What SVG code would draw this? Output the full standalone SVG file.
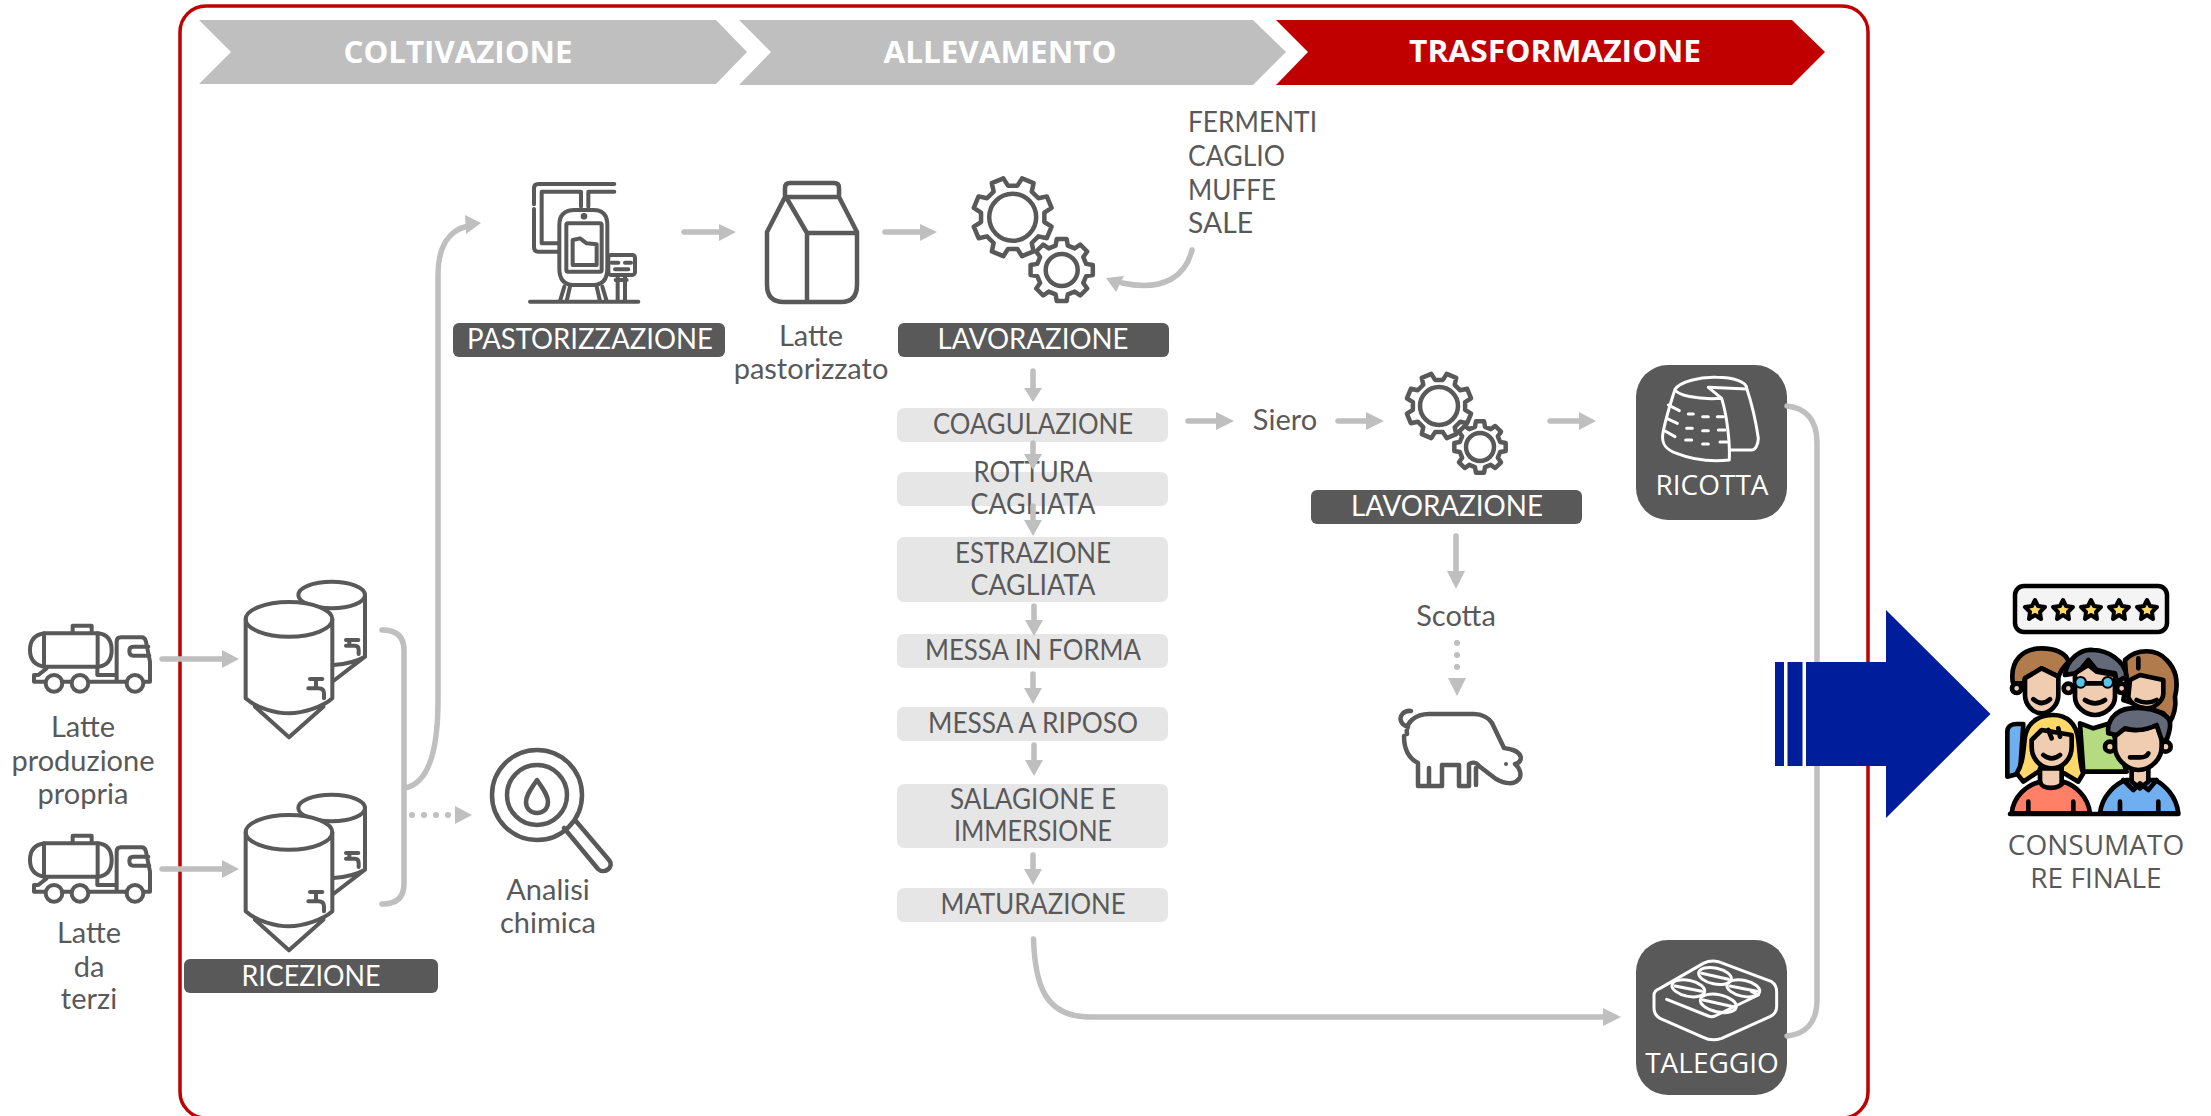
<svg xmlns="http://www.w3.org/2000/svg" xmlns:xlink="http://www.w3.org/1999/xlink" width="2211" height="1116" viewBox="0 0 2211 1116">
<style>
text{font-family:"Lato","Liberation Sans",sans-serif;font-size:29px;fill:#595959;text-anchor:middle}
.u{font-size:28px}
.w{fill:#fff}
.l{text-anchor:start}
.h{font-family:"Open Sans","Liberation Sans",sans-serif;font-weight:700;font-size:30px;fill:#fff}
.o{font-family:"Open Sans","Liberation Sans",sans-serif;font-size:28px}
.pill{fill:#595959}
.box{fill:#E6E6E6}
.ic{fill:none;stroke:#595959;stroke-width:4.500;stroke-linecap:round;stroke-linejoin:round}
.z{fill:none;stroke:#595959;stroke-width:12;stroke-linecap:round;stroke-linejoin:round}
.wi{fill:none;stroke:#fff;stroke-width:9;stroke-linecap:round;stroke-linejoin:round}
.g{fill:none;stroke:#595959;stroke-width:4.500;stroke-linejoin:round;vector-effect:non-scaling-stroke}
.c{fill:none;stroke:#BFBFBF;stroke-width:5.500;stroke-linecap:round}
.hd{fill:#BFBFBF}
.d{fill:#BFBFBF}
.k{stroke:#000;stroke-width:14;stroke-linejoin:round;stroke-linecap:round}
.n{fill:none}
.skin{fill:#F0CDB0}
</style>
<defs>
<polygon id="gear" class="g" points="77.6,-19.4 98.8,-15.6 98.8,15.6 77.6,19.4 68.6,41.2 80.9,58.8 58.8,80.9 41.2,68.6 19.4,77.6 15.6,98.8 -15.6,98.8 -19.4,77.6 -41.2,68.6 -58.8,80.9 -80.9,58.8 -68.6,41.2 -77.6,19.4 -98.8,15.6 -98.8,-15.6 -77.6,-19.4 -68.6,-41.2 -80.9,-58.8 -58.8,-80.9 -41.2,-68.6 -19.4,-77.6 -15.6,-98.8 15.6,-98.8 19.4,-77.6 41.2,-68.6 58.8,-80.9 80.9,-58.8 68.6,-41.2"/>
<g id="truck" class="z" transform="translate(20 615) scale(.3333)">
<path d="M80 55H235Q275 60 275 105Q275 150 235 155H75Q30 150 30 105Q30 60 75 55Z"/>
<path d="M72 55V155M233 55V155M158 50V32H215V50"/>
<path d="M80 160L55 180H42V200H75M125 200H155M205 200H320M232 155V180H290M290 200V80Q290 67 303 67H365Q375 67 378 80L390 140V200H372M385 95H340Q328 95 328 107Q328 122 340 122H388"/>
<circle cx="102" cy="205" r="25"/><circle cx="180" cy="205" r="25"/><circle cx="345" cy="205" r="25"/>
</g>
<g id="tanks" class="z" transform="translate(240 575) scale(.3333)">
<ellipse cx="275" cy="60" rx="100" ry="40"/>
<path d="M375 60V245L280 318M280 270Q340 265 375 245"/>
<ellipse cx="147" cy="133" rx="130" ry="52" fill="#fff"/>
<path d="M17 133V370C50 400 110 415 147 415C190 415 250 395 277 370V133M45 395L147 487L250 395"/>
<path d="M210 312H247M228 312V338M205 340H235Q252 340 252 355V370M318 195H355M328 195V210M318 212H345Q356 212 356 225V237"/>
</g>
</defs>

<rect x="180" y="6" width="1688" height="1112" rx="26" fill="#fff" stroke="#C00000" stroke-width="3.500"/>

<g id="stage-coltivazione"><polygon points="199,20 716,20 747,52 716,84 199,84 231,52" fill="#BFBFBF"/><text class="h" x="458" y="63" textLength="229" lengthAdjust="spacingAndGlyphs">COLTIVAZIONE</text></g>
<g id="stage-allevamento"><polygon points="739,20 1253,20 1286,52 1253,85 739,85 771,52" fill="#BFBFBF"/><text class="h" x="1000" y="63" textLength="233" lengthAdjust="spacingAndGlyphs">ALLEVAMENTO</text></g>
<g id="stage-trasformazione"><polygon points="1276,20 1792,20 1825,52 1792,85 1276,85 1308,52" fill="#C00000"/><text class="h" x="1555" y="62" textLength="292" lengthAdjust="spacingAndGlyphs">TRASFORMAZIONE</text></g>

<g id="truck-propria"><use xlink:href="#truck" href="#truck"/><text><tspan x="83" y="737">Latte</tspan><tspan x="83" y="771">produzione</tspan><tspan x="83" y="804">propria</tspan></text></g>
<g id="truck-terzi"><use xlink:href="#truck" href="#truck" y="210"/><text><tspan x="89" y="943">Latte</tspan><tspan x="89" y="977">da</tspan><tspan x="89" y="1009">terzi</tspan></text></g>
<g id="tanks-1"><use xlink:href="#tanks" href="#tanks"/></g>
<g id="tanks-2"><use xlink:href="#tanks" href="#tanks" y="213"/></g>
<g id="ricezione"><rect class="pill" x="184" y="959" width="254" height="34" rx="6"/><text class="w u" x="311" y="986" textLength="139" lengthAdjust="spacingAndGlyphs">RICEZIONE</text></g>

<g id="analisi">
<circle class="ic" cx="537" cy="795" r="45"/><circle class="ic" cx="537" cy="795" r="30"/>
<path class="ic" d="M537 780C531 789 526 795 526 802C526 809 531 813 537 813C543 813 548 809 548 802C548 795 543 789 537 780Z"/>
<path class="ic" d="M564 828L598 869C604 875 615 867 609 860L575 820"/>
<text><tspan x="548" y="900">Analisi</tspan><tspan x="548" y="933">chimica</tspan></text>
</g>

<g id="pastorizzazione">
<g class="z" transform="translate(525 175) scale(.3333)">
<path d="M268 27H40Q27 27 27 40V88M27 102V215Q27 230 40 230H100M268 50H190V95M168 95V50H50V205H100"/>
<path d="M103 150Q103 105 150 105H205Q247 105 247 150V280Q247 330 205 330H145Q103 330 103 280Z"/>
<rect x="124" y="145" width="106" height="145" rx="5"/>
<path d="M143 195V270H215V208L185 205L165 190Z"/>
<circle cx="177" cy="124" r="4" fill="#595959"/>
<rect x="250" y="240" width="80" height="60" rx="8" fill="#fff"/>
<path d="M260 263H280M300 263H318M270 283H310M278 302V378M300 302V378M272 315H305M118 335L105 378M135 335L125 378M215 335L225 378M232 335L245 378M15 380H340"/>
</g>
<rect class="pill" x="453" y="323" width="272" height="34" rx="6"/><text class="w u" x="590" y="349" textLength="246" lengthAdjust="spacingAndGlyphs">PASTORIZZAZIONE</text>
</g>

<g id="latte-pastorizzato">
<path class="ic" d="M785 197V188Q785 183 790 183H834Q839 183 839 188V197ZM785 197L767 232V285Q767 302 784 302H841Q857 302 857 285V232L839 197M786 197L807 233H857M807 233V302"/>
<text><tspan x="811" y="346">Latte</tspan><tspan x="811" y="379">pastorizzato</tspan></text>
</g>

<g id="lavorazione-1">
<use xlink:href="#gear" href="#gear" transform="translate(1012.700 217.300) rotate(22.500) scale(.4)"/>
<circle class="ic" cx="1012.700" cy="217.300" r="23.500"/>
<use xlink:href="#gear" href="#gear" transform="translate(1061.700 270) scale(.315)"/>
<circle class="ic" cx="1061.700" cy="270" r="16"/>
<rect class="pill" x="898" y="323" width="271" height="34" rx="6"/><text class="w u" x="1033" y="349" textLength="191" lengthAdjust="spacingAndGlyphs">LAVORAZIONE</text>
</g>

<g id="ingredienti"><text class="u"><tspan class="l" x="1188" y="132" textLength="129" lengthAdjust="spacingAndGlyphs">FERMENTI</tspan><tspan class="l" x="1188" y="166" textLength="97" lengthAdjust="spacingAndGlyphs">CAGLIO</tspan><tspan class="l" x="1188" y="200" textLength="88" lengthAdjust="spacingAndGlyphs">MUFFE</tspan><tspan class="l" x="1188" y="233" textLength="65" lengthAdjust="spacingAndGlyphs">SALE</tspan></text></g>

<g id="coagulazione"><rect class="box" x="897" y="408" width="271" height="34" rx="7"/><text class="u" x="1033" y="434" textLength="200" lengthAdjust="spacingAndGlyphs">COAGULAZIONE</text></g>
<g id="rottura"><rect class="box" x="897" y="472" width="271" height="34" rx="7"/><text class="u" x="1033" y="482" textLength="119" lengthAdjust="spacingAndGlyphs">ROTTURA</text><text class="u" x="1033" y="514" textLength="125" lengthAdjust="spacingAndGlyphs">CAGLIATA</text></g>
<g id="estrazione"><rect class="box" x="897" y="537" width="271" height="65" rx="7"/><text class="u" x="1033" y="563" textLength="156" lengthAdjust="spacingAndGlyphs">ESTRAZIONE</text><text class="u" x="1033" y="595" textLength="125" lengthAdjust="spacingAndGlyphs">CAGLIATA</text></g>
<g id="messa-forma"><rect class="box" x="897" y="634" width="271" height="34" rx="7"/><text class="u" x="1033" y="660" textLength="216" lengthAdjust="spacingAndGlyphs">MESSA IN FORMA</text></g>
<g id="messa-riposo"><rect class="box" x="897" y="707" width="271" height="34" rx="7"/><text class="u" x="1033" y="733" textLength="210" lengthAdjust="spacingAndGlyphs">MESSA A RIPOSO</text></g>
<g id="salagione"><rect class="box" x="897" y="784" width="271" height="64" rx="7"/><text class="u" x="1033" y="809" textLength="166" lengthAdjust="spacingAndGlyphs">SALAGIONE E</text><text class="u" x="1033" y="841" textLength="158" lengthAdjust="spacingAndGlyphs">IMMERSIONE</text></g>
<g id="maturazione"><rect class="box" x="897" y="888" width="271" height="34" rx="7"/><text class="u" x="1033" y="914" textLength="185" lengthAdjust="spacingAndGlyphs">MATURAZIONE</text></g>

<g id="siero"><text x="1285" y="430">Siero</text></g>
<g id="lavorazione-2">
<use xlink:href="#gear" href="#gear" transform="translate(1439 406) rotate(22.500) scale(.33)"/>
<circle class="ic" cx="1439" cy="406" r="19"/>
<use xlink:href="#gear" href="#gear" transform="translate(1480 447) scale(.26)"/>
<circle class="ic" cx="1480" cy="447" r="14"/>
<rect class="pill" x="1311" y="490" width="271" height="34" rx="6"/><text class="w u" x="1447" y="516" textLength="192" lengthAdjust="spacingAndGlyphs">LAVORAZIONE</text>
</g>
<g id="scotta"><text x="1456" y="626">Scotta</text></g>
<g id="maiale">
<path class="ic" d="M1411 711C1404 710 1399 716 1401 721C1402 724 1405 726 1408 727M1407 734C1405 722 1416 714 1429 714H1474C1482 714 1489 718 1492 723L1504 748C1510 749 1517 750 1520 755C1522 759 1520 763 1515 764C1520 768 1522 775 1519 779C1514 785 1505 784 1496 779L1479 766C1476 762 1472 762 1469 764V786H1459V765H1442V786H1418V763C1408 758 1404 748 1404 736M1429 768V785M1476 768V785"/>
<circle cx="1506" cy="764" r="2" fill="#595959"/>
</g>

<g id="ricotta">
<rect class="pill" x="1636" y="365" width="151" height="155" rx="32"/>
<g class="wi" transform="translate(1640 370) scale(.3333)">
<path d="M105 58C120 35 180 20 230 22C280 22 320 35 320 55C335 100 350 170 355 205C355 225 345 240 335 240H270M205 52L320 57M105 58C110 75 170 90 245 85L205 52M105 58C95 90 75 150 68 195C65 225 80 240 110 250C160 270 220 275 268 270C270 220 262 140 245 85"/>
<path d="M85 105L118 122M80 145L112 160M75 183L105 200M145 132H160M188 140H205M232 140H250M140 175H157M188 182H205M235 180H255M137 210H155M188 222H205M240 216H260"/>
</g>
<text class="o w" x="1712" y="495">RICOTTA</text>
</g>

<g id="taleggio">
<rect class="pill" x="1636" y="940" width="151" height="155" rx="32"/>
<g class="wi" transform="translate(1640 950) scale(.3333)">
<path d="M60 115L190 40Q210 30 235 35L395 95Q410 105 410 125V170Q410 190 390 200L245 265Q215 275 190 262L60 205Q42 195 42 175V135Q42 122 60 115Z"/>
<path d="M80 148L205 198Q215 202 225 198L355 135L335 125"/>
<ellipse cx="225" cy="78" rx="50" ry="24" transform="rotate(12 225 78)"/><ellipse cx="145" cy="115" rx="50" ry="24" transform="rotate(12 145 115)"/><ellipse cx="310" cy="115" rx="50" ry="24" transform="rotate(12 310 115)"/><ellipse cx="235" cy="160" rx="55" ry="26" transform="rotate(12 235 160)"/>
<path d="M185 70L265 88M105 108L185 124M270 108L350 124M190 150L280 170"/>
</g>
<text class="o w" x="1712" y="1073">TALEGGIO</text>
</g>

<g id="connectors">
<path class="c" d="M162 659H225M162 869H225M382 630C396 630 404 636 404 650V884C404 898 396 904 382 904M404 788C425 785 438 760 438 700V275C438 245 450 230 468 226M684 232H722M885 232H922M1192 250C1186 275 1165 292 1122 283M1033 371V390M1033 443V456M1033 506V520M1034 606V620M1033 674V690M1034 745V760M1033 855V870M1188 421H1218M1338 421H1367M1550 421H1580M1456 536V574"/>
<path class="c" d="M1033.500 939C1035 985 1045 1017 1090 1017H1606M1787 406C1806 408 1817 420 1817 443V1000C1817 1022 1806 1034 1787 1036"/>
<polygon class="hd" points="239,659 222,650 222,668"/><polygon class="hd" points="239,869 222,860 222,878"/>
<polygon class="hd" points="481,223 465,215 466,234"/>
<polygon class="hd" points="736,232 719,224 719,241"/><polygon class="hd" points="937,232 920,224 920,241"/>
<polygon class="hd" points="1106,278 1116,292 1124,276"/>
<polygon class="hd" points="1033,402 1024,388 1042,388"/><polygon class="hd" points="1033,470 1024,454 1042,454"/><polygon class="hd" points="1033,536 1024,520 1042,520"/><polygon class="hd" points="1034,636 1025,620 1043,620"/><polygon class="hd" points="1033,704 1024,688 1042,688"/><polygon class="hd" points="1034,776 1025,760 1043,760"/><polygon class="hd" points="1033,885 1024,869 1042,869"/>
<polygon class="hd" points="1234,421 1216,412 1216,430"/><polygon class="hd" points="1384,421 1366,412 1366,430"/><polygon class="hd" points="1596,421 1579,412 1579,430"/>
<polygon class="hd" points="1456,589 1447,571 1465,571"/><polygon class="hd" points="1457,696 1448,678 1466,678"/>
<polygon class="hd" points="1621,1017 1603,1008 1603,1026"/>
<polygon class="hd" points="472,815 455,806 455,824"/>
<circle class="d" cx="412" cy="815" r="3"/><circle class="d" cx="424" cy="815" r="3"/><circle class="d" cx="436" cy="815" r="3"/><circle class="d" cx="448" cy="815" r="3"/>
<circle class="d" cx="1457" cy="643" r="3"/><circle class="d" cx="1457" cy="655" r="3"/><circle class="d" cx="1457" cy="667" r="3"/>
</g>

<g id="freccia-blu" fill="#001E9C">
<rect x="1775" y="662" width="9" height="104"/><rect x="1787.500" y="662" width="15" height="104"/>
<polygon points="1806,662 1886,662 1886,610 1990.500,714 1886,818 1886,766 1806,766"/>
</g>

<g id="consumatore">
<rect x="2015" y="586" width="152" height="46" rx="9" fill="#F4F4F4" stroke="#000" stroke-width="4.500"/>
<g fill="#FFD966" stroke="#000" stroke-width="4" stroke-linejoin="round">
<polygon points="2035,600 2038,606 2045,607 2040,612 2041,619 2035,615 2029,619 2030,612 2025,607 2032,606"/>
<polygon points="2063,600 2066,606 2073,607 2068,612 2069,619 2063,615 2057,619 2058,612 2053,607 2060,606"/>
<polygon points="2091,600 2094,606 2101,607 2096,612 2097,619 2091,615 2085,619 2086,612 2081,607 2088,606"/>
<polygon points="2119,600 2122,606 2129,607 2124,612 2125,619 2119,615 2113,619 2114,612 2109,607 2116,606"/>
<polygon points="2147,600 2150,606 2157,607 2152,612 2153,619 2147,615 2141,619 2142,612 2137,607 2144,606"/>
</g>
<g transform="translate(2000 640) scale(.3333)">
<path class="k" fill="#6FAEEF" d="M22 410V275C22 260 35 252 50 252H70L60 400Z"/>
<path class="k" fill="#B4DB80" d="M240 250L280 265L330 250L380 395H250Z"/>
<path class="k" fill="#B27B4B" d="M375 60C410 25 470 25 500 60C530 90 535 130 525 170C530 200 520 230 510 245L490 220L400 190L370 180L380 130Z"/>
<path class="k skin" d="M390 120L420 105L490 120V160C490 185 460 205 440 205C415 205 390 190 385 170Z"/>
<circle class="k skin" cx="50" cy="145" r="14"/>
<path class="k" fill="#B27B4B" d="M38 125C30 60 70 25 125 25C165 25 200 40 205 65L185 90L175 110L125 85L75 115L72 130L40 130Z"/>
<path class="k skin" d="M75 115L125 85L175 110V165C175 195 150 220 125 220C100 220 75 195 75 165Z"/>
<circle class="k skin" cx="205" cy="145" r="14"/><circle class="k skin" cx="365" cy="145" r="14"/>
<path class="k skin" d="M225 100L265 75L290 95L345 105V170C345 200 315 225 285 225C255 225 225 200 225 170Z"/>
<path class="k" fill="#636978" d="M195 105C200 60 240 25 280 30C320 30 375 60 380 110L350 125L345 100L290 90L265 60L245 85L225 100Z"/>
<circle cx="242" cy="127" r="16" fill="#55C5E8" stroke="#000" stroke-width="6"/><circle cx="323" cy="127" r="16" fill="#55C5E8" stroke="#000" stroke-width="6"/>
<path class="k n" d="M260 130H305M100 178Q125 200 150 178M255 180Q285 200 315 180M410 180Q440 195 470 180M415 55V85"/>
<path class="k" fill="#FFD76A" d="M50 400C70 370 70 330 75 290C85 240 125 225 160 225C200 225 230 250 235 300C240 340 240 380 250 400L235 425L185 395V360L115 395L70 425Z"/>
<path class="k skin" d="M95 300L125 270L215 285V320C215 355 190 385 155 385C120 385 95 355 95 320Z"/>
<path class="k skin" d="M120 385V440C130 450 175 450 185 440V385Z"/>
<path class="k" fill="#FF8066" d="M35 520C40 470 80 435 120 425C125 450 180 450 190 425C225 435 265 470 270 520Z"/>
<path class="k n" d="M145 270L155 295M175 265L180 290M130 345Q155 365 180 345M85 485V520M220 485V520"/>
<path class="k" fill="#6FAEEF" d="M300 520C305 470 345 430 380 420H465C495 435 530 470 535 520Z"/>
<path class="k skin" d="M395 380V425L420 445L445 425V380Z"/>
<circle class="k skin" cx="330" cy="320" r="15"/><circle class="k skin" cx="497" cy="320" r="15"/>
<path class="k skin" d="M345 290L365 265C400 275 440 270 470 255L485 295V320C485 355 455 390 415 390C380 390 345 355 345 320Z"/>
<path class="k" fill="#636978" d="M325 280C320 250 340 210 390 205C430 200 480 210 505 235C515 250 510 270 500 300L485 300L470 255C440 270 410 275 375 265L350 285Z"/>
<path class="k n" d="M370 420L400 450L420 430L445 450L470 420M390 352H420Q440 352 445 340M360 485V520M475 485V520M30 522H535"/>
</g>
<text class="o"><tspan x="2096" y="855">CONSUMATO</tspan><tspan x="2096" y="888">RE FINALE</tspan></text>
</g>
</svg>
